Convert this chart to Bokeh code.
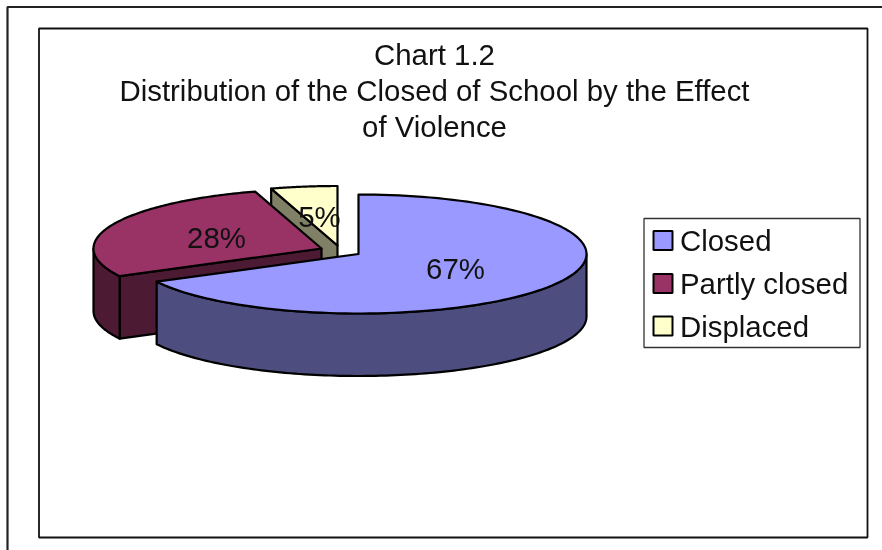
import numpy as np
from bokeh.plotting import figure
from bokeh.embed import file_html
from bokeh.resources import INLINE
from bokeh.models import ColumnDataSource, Range1d
from bokeh.core.properties import value

categories = ["Closed", "Partly closed", "Displaced"]
shares = [67.3, 28.0, 4.7]
labels = ["67%", "28%", "5%"]
top_colors = ["#9999FF", "#993366", "#FFFFCC"]
wall_colors = ["#4D4D80", "#4D1A33", "#808066"]
title_lines = ["Chart 1.2", "Distribution of the Closed of School by the Effect", "of Violence"]

W, H = 882, 550
FONT = "Liberation Sans"
RX, RY, DEPTH = 228, 59.5, 62.5
centers = [(358, 253.5), (321, 248), (337, 245)]
label_pos = [(455, 267.5), (216, 236.5), (319, 215.5)]
LEGEND_BOX = (643.5, 859.5, 218, 347)
legend_y = [240, 283, 325.5]
KEY_X0, KEY_SIZE, LABEL_X = 653, 19, 679.5

p = figure(width=W, height=H, x_range=Range1d(0, W), y_range=Range1d(H, 0),
           toolbar_location=None, output_backend="svg", min_border=0,
           x_axis_location=None, y_axis_location=None,
           background_fill_color="white", border_fill_color="white",
           outline_line_color=None)
p.grid.visible = False
p.styles = {"position": "fixed", "left": "0px", "top": "0px"}

# frames
p.line([7, 7, W + 5, W + 5], [H + 5, 6.5, 6.5, H + 5], line_color="#222222", line_width=2.2)
p.quad(left=[38.5], right=[867], top=[28], bottom=[537], fill_color="white",
       line_color="#111111", line_width=1.8)


def rim(c, a0, a1, n=120):
    t = np.radians(np.linspace(a0, a1, n))
    return c[0] + RX * np.sin(t), c[1] - RY * np.cos(t)


fracs = np.cumsum([0] + shares) / sum(shares) * 360
for i in [2, 1, 0]:
    a0, a1 = fracs[i], fracs[i + 1]
    c = centers[i]
    kw = dict(line_color="black", line_width=2.2, line_join="round")
    # radial cut face turned towards the viewer
    if i in (1, 2):
        xs, ys = rim(c, a0, a0, 1)
        p.patch([xs[0], c[0], c[0], xs[0]], [ys[0], c[1], c[1] + DEPTH, ys[0] + DEPTH],
                fill_color=wall_colors[i], **kw)
    # outer wall: only the part of the rim on the near half
    w0, w1 = max(a0, 90), min(a1, 270)
    if w1 > w0:
        xs, ys = rim(c, w0, w1)
        p.patch(np.r_[xs, xs[::-1]], np.r_[ys, ys[::-1] + DEPTH], fill_color=wall_colors[i], **kw)
    # top face
    xs, ys = rim(c, a0, a1)
    p.patch(np.r_[c[0], xs], np.r_[c[1], ys], fill_color=top_colors[i], **kw)

text_kw = dict(text_font=value(FONT), text_font_size="29.4px", text_color="#111111",
               text_baseline="middle")

# slice labels
src = ColumnDataSource(dict(x=[q[0] for q in label_pos], y=[q[1] for q in label_pos], t=labels))
p.text("x", "y", text="t", source=src, text_align="center", **text_kw)

# title
tsrc = ColumnDataSource(dict(x=[434] * 3, y=[53.5, 89.5, 125.5], t=title_lines))
p.text("x", "y", text="t", source=tsrc, text_align="center", **text_kw)

# legend
p.quad(left=[LEGEND_BOX[0]], right=[LEGEND_BOX[1]], top=[LEGEND_BOX[2]], bottom=[LEGEND_BOX[3]],
       fill_color="white", line_color="#333333", line_width=1.3)
ky = np.array(legend_y)
p.quad(left=[KEY_X0] * 3, right=[KEY_X0 + KEY_SIZE] * 3, top=ky - KEY_SIZE / 2, bottom=ky + KEY_SIZE / 2,
       fill_color=top_colors, line_color="black", line_width=2)
lsrc = ColumnDataSource(dict(x=[LABEL_X] * 3, y=legend_y, t=categories))
p.text("x", "y", text="t", source=lsrc, text_align="left", **text_kw)

open("out.html", "w").write(file_html(p, INLINE))
